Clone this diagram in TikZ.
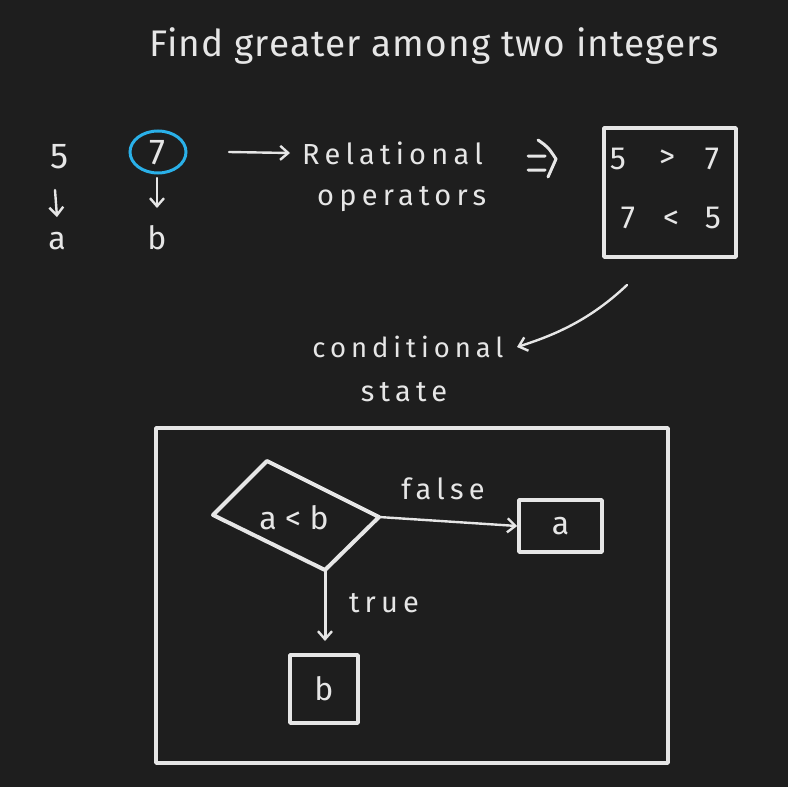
\documentclass[tikz,border=0pt]{standalone}
\usepackage{fontspec}
\setmainfont{Fira Sans}
\newfontfamily\hw[LetterSpace=18]{Fira Sans}
\newfontfamily\tw[LetterSpace=3]{Fira Sans}
\usetikzlibrary{arrows.meta}
\definecolor{bg}{HTML}{1E1E1E}
\definecolor{ink}{HTML}{E6E6E6}
\definecolor{blueink}{HTML}{2AB0E8}
\begin{document}
\begin{tikzpicture}[x=1pt,y=-1pt,
  txt/.style={text=ink,inner sep=0pt},
  big/.style={txt,font=\fontsize{36}{40}\selectfont},
  mid/.style={txt,font=\fontsize{32}{36}\selectfont},
  word/.style={txt,font=\hw\fontsize{29}{32}\selectfont},
  boxline/.style={draw=ink,line width=3.6pt,line cap=round,line join=round},
  arr/.style={draw=ink,line width=2.4pt,line cap=round,-{Straight Barb[length=8pt,width=14pt,line width=2.4pt]}}
]
\fill[bg] (0,0) rectangle (788,787);
\useasboundingbox (0,0) rectangle (788,787);

% title
\node[txt,font=\tw\fontsize{37}{40}\selectfont] (title) at (434,46) {Find greater among two integers};

% values
\node[big] (five) at (60,157) {5};
\node[big] (seven) at (157,153) {7};
\draw[blueink,line width=3pt] (158,152) ellipse [x radius=28, y radius=21];
\coordinate (fiveA) at (55,190);
\coordinate (sevenA) at (157,178);
\node[mid] (a) at (57,241) {a};
\node[mid] (b) at (157,238) {b};
\draw[arr] (fiveA) -- (a.north|-0,217);
\draw[arr] (sevenA) -- (b.north|-0,208);

% relational
\coordinate (rs) at (229,152);
\node[word,anchor=west] (rel) at (302,153) {Relational};
\node[word,anchor=west] (ops) at (317,199) {operators};
\draw[arr] (rs) -- (rel.west-|290,0);
% implies sign
\draw[ink,line width=3pt,line cap=round,line join=round] (528,156) -- (545,156) (528,170) -- (545,170)
  (538,140) .. controls (548,147) .. (556,159) -- (548,177);

% comparison box
\node[boxline,minimum width=132pt,minimum height=129pt,inner sep=0pt] (cmp) at (670,192.5) {};
\node[mid] at (618,159) {5};
\node[mid] at (667,159) {>};
\node[mid] at (712,159) {7};
\node[mid] at (628,218) {7};
\node[mid] at (671,220) {<};
\node[mid] at (713,218) {5};

% conditional
\node[word,font=\hw\fontsize{27.5}{30}\selectfont] (cond) at (408,347) {conditional};
\node[word] (state) at (404,392) {state};
\coordinate (cs) at (627,285);
\draw[arr] (cs) .. controls (590,320) and (555,335) .. (cond.east-|517,0);

% big frame
\node[boxline,minimum width=512pt,minimum height=335pt,inner sep=0pt] (frame) at (412,595.5) {};

% diamond
\coordinate (dL) at (213,515);
\coordinate (dT) at (267,461);
\coordinate (dR) at (379,517);
\coordinate (dB) at (325,570);
\draw[boxline,line width=4pt] (dL) -- (dT) -- (dR) -- (dB) -- cycle;
\node[mid] (cmpab) at (294,518) {a < b};

% result boxes
\node[boxline,minimum width=83pt,minimum height=52pt,inner sep=0pt] (boxa) at (560.5,526) {};
\node[mid] at (boxa) {a};
\node[boxline,minimum width=68pt,minimum height=68pt,inner sep=0pt] (boxb) at (324,689) {};
\node[mid] at (boxb) {b};

\draw[arr] (dR) -- (boxa.west);
\node[word] (false) at (443,489) {false};
\draw[arr,line width=3pt] (dB) -- (325,641);
\node[word] (true) at (384,603) {true};
\end{tikzpicture}
\end{document}
